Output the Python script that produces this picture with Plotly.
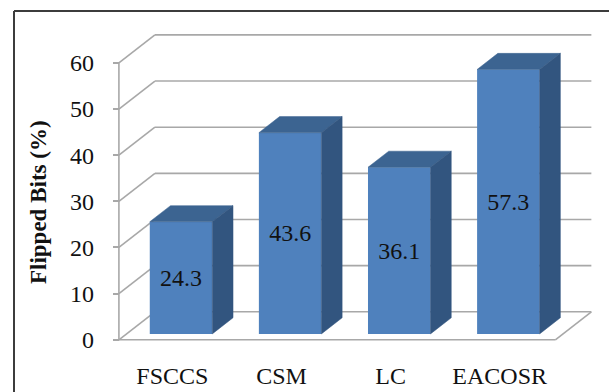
import plotly.graph_objects as go

# Flipped-bit percentages per scheme
categories = ["FSCCS", "CSM", "LC", "EACOSR"]
flipped_bits = [24.3, 43.6, 36.1, 57.3]
y_ticks = [0, 10, 20, 30, 40, 50, 60]

SERIF = "Liberation Serif"
GRID = "#a8a8a8"
FRONT = "#4f81bd"
TOP = "#3c6491"
SIDE = "#32557f"

# Oblique projection: depth 0 is the front of the floor, depth 1 the back wall
DEPTH_X = 0.33
DEPTH_Y = 6.07
BAR_WIDTH = 0.573
BAR_NEAR = 0.21
BAR_FAR = 0.786


def project(cat, value, depth):
    return cat + depth * DEPTH_X, value + depth * DEPTH_Y


def segment(p, q, color=GRID, width=1.6):
    return dict(type="line", xref="x", yref="y", layer="below",
                x0=p[0], y0=p[1], x1=q[0], y1=q[1],
                line=dict(color=color, width=width))


n = len(categories)
shapes = []

# Walls: one diagonal and one back line for each gridline
for v in y_ticks:
    shapes.append(segment(project(0, v, 0), project(0, v, 1)))
    shapes.append(segment(project(0, v, 1), project(n, v, 1)))

# Floor edges and the vertical value axis
shapes.append(segment(project(0, 0, 0), project(n, 0, 0)))
shapes.append(segment(project(n, 0, 0), project(n, 0, 1)))
shapes.append(segment(project(0, 0, 0), project(0, y_ticks[-1], 0)))

fig = go.Figure()

centers = [i + 0.5 + BAR_NEAR * DEPTH_X for i in range(n)]
fig.add_trace(go.Bar(
    x=centers,
    y=flipped_bits,
    base=[BAR_NEAR * DEPTH_Y] * n,
    width=BAR_WIDTH,
    marker=dict(color=FRONT, line=dict(width=0)),
    text=[f"{v:.1f}" for v in flipped_bits],
    textposition="inside",
    insidetextanchor="middle",
    textangle=0,
    insidetextfont=dict(family=SERIF, size=24, color="#111111"),
    showlegend=False,
))

# Top and right faces of each bar
for i, v in enumerate(flipped_bits):
    left = i + 0.5 - BAR_WIDTH / 2
    right = i + 0.5 + BAR_WIDTH / 2
    top_face = [project(left, v, BAR_NEAR), project(right, v, BAR_NEAR),
                project(right, v, BAR_FAR), project(left, v, BAR_FAR)]
    side_face = [project(right, 0, BAR_NEAR), project(right, v, BAR_NEAR),
                 project(right, v, BAR_FAR), project(right, 0, BAR_FAR)]
    for face, color in ((top_face, TOP), (side_face, SIDE)):
        xs = [p[0] for p in face] + [face[0][0]]
        ys = [p[1] for p in face] + [face[0][1]]
        fig.add_trace(go.Scatter(
            x=xs, y=ys, mode="lines", fill="toself", fillcolor=color,
            line=dict(color=color, width=0.5), showlegend=False,
            hoverinfo="skip",
        ))

# Plot area geometry, used to place the frame and the axis title in paper units
L, R, T, B = 108, 10, 26, 43
W, H = 609, 392
plot_w, plot_h = W - L - R, H - T - B


def paper_x(px):
    return (px - L) / plot_w


def paper_y(px):
    return 1 - (px - T) / plot_h


frame = dict(color="#3c3c3c", width=2)
shapes.append(dict(type="line", xref="paper", yref="paper",
                   x0=paper_x(14), x1=paper_x(14),
                   y0=paper_y(11), y1=paper_y(400), line=frame))
shapes.append(dict(type="line", xref="paper", yref="paper",
                   x0=paper_x(14), x1=paper_x(620),
                   y0=paper_y(11), y1=paper_y(11), line=frame))

fig.update_layout(
    width=W,
    height=H,
    margin=dict(l=L, r=R, t=T, b=B, autoexpand=False),
    paper_bgcolor="white",
    plot_bgcolor="white",
    shapes=shapes,
    showlegend=False,
    annotations=[dict(
        text="<b>Flipped Bits (%)</b>",
        xref="paper", yref="paper",
        x=paper_x(38), y=paper_y(202),
        xanchor="center", yanchor="middle",
        textangle=-90, showarrow=False,
        font=dict(family=SERIF, size=23, color="#111111"),
    )],
    xaxis=dict(
        automargin=False,
        range=[-0.1, 4.4],
        tickmode="array",
        tickvals=[i + 0.49 for i in range(n)],
        ticktext=categories,
        ticks="outside",
        ticklen=5,
        tickcolor="rgba(0,0,0,0)",
        tickfont=dict(family=SERIF, size=24, color="#111111"),
        showgrid=False,
        zeroline=False,
        showline=False,
    ),
    yaxis=dict(
        automargin=False,
        range=[-2, 68],
        anchor="free",
        position=0.1 / 4.5,
        tickmode="array",
        tickvals=y_ticks,
        ticks="outside",
        ticklen=6,
        tickcolor=GRID,
        tickwidth=1.6,
        ticklabelstandoff=14,
        tickfont=dict(family=SERIF, size=24, color="#111111"),
        showgrid=False,
        zeroline=False,
        showline=False,
    ),
)

fig.write_html("out.html")
